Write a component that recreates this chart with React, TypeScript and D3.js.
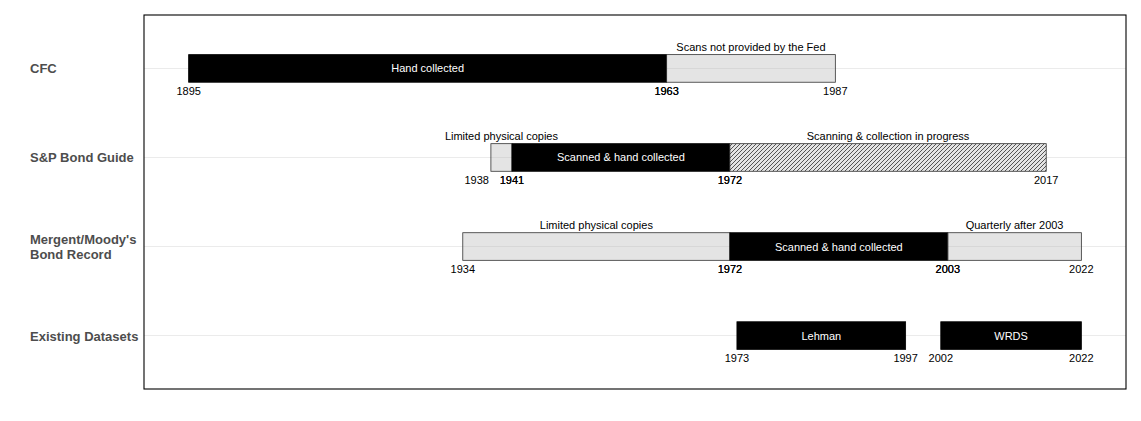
import React from 'react'
import * as d3 from 'd3'

// rows, top to bottom
const sources = ['CFC', 'S&P Bond Guide', "Mergent/Moody's\nBond Record", 'Existing Datasets']

// one entry per coloured segment of a timeline
interface ISegment {
    source: string
    start: number
    end: number
    kind: 'black' | 'grey' | 'hatch'
    inside: string
    above: string
}

const segments: ISegment[] = [
    { source: 'CFC', start: 1895, end: 1963, kind: 'black', inside: 'Hand collected', above: '' },
    { source: 'CFC', start: 1963, end: 1987, kind: 'grey', inside: '', above: 'Scans not provided by the Fed' },
    { source: 'S&P Bond Guide', start: 1938, end: 1941, kind: 'grey', inside: '', above: 'Limited physical copies' },
    { source: 'S&P Bond Guide', start: 1941, end: 1972, kind: 'black', inside: 'Scanned & hand collected', above: '' },
    { source: 'S&P Bond Guide', start: 1972, end: 2017, kind: 'hatch', inside: '', above: 'Scanning & collection in progress' },
    { source: "Mergent/Moody's\nBond Record", start: 1934, end: 1972, kind: 'grey', inside: '', above: 'Limited physical copies' },
    { source: "Mergent/Moody's\nBond Record", start: 1972, end: 2003, kind: 'black', inside: 'Scanned & hand collected', above: '' },
    { source: "Mergent/Moody's\nBond Record", start: 2003, end: 2022, kind: 'grey', inside: '', above: 'Quarterly after 2003' },
    { source: 'Existing Datasets', start: 1973, end: 1997, kind: 'black', inside: 'Lehman', above: '' },
    { source: 'Existing Datasets', start: 2002, end: 2022, kind: 'black', inside: 'WRDS', above: '' },
]

const width = 1141
const height = 421
const panel = { left: 144, right: 1126, top: 15, bottom: 389 }
const font = '"Liberation Sans", Arial, Helvetica, sans-serif'

export default function App() {
    const minYear = d3.min(segments, d => d.start) as number
    const maxYear = d3.max(segments, d => d.end) as number
    const pad = (maxYear - minYear) * 0.05

    const x = d3.scaleLinear()
        .domain([minYear - pad, maxYear + pad])
        .range([panel.left, panel.right])

    const y = d3.scalePoint<string>()
        .domain(sources)
        .range([panel.top, panel.bottom])
        .padding(0.6)

    const barH = y.step() * 0.31

    return (
        <svg
            width={width}
            height={height}
            style={{ position: 'absolute', left: 0, top: 0, fontFamily: font }}
        >
            <defs>
                <pattern id="hatch" patternUnits="userSpaceOnUse" width={4} height={4}>
                    <rect width={4} height={4} fill="#e4e4e4" />
                    <path d="M-1,1 l2,-2 M0,4 l4,-4 M3,5 l2,-2" stroke="#444" strokeWidth={0.9} />
                </pattern>
            </defs>
            <rect x={0} y={0} width={width} height={height} fill="white" />

            {/* grid */}
            {sources.map(s => (
                <line
                    key={'g' + s}
                    x1={panel.left}
                    x2={panel.right}
                    y1={y(s)}
                    y2={y(s)}
                    stroke="#ebebeb"
                    strokeWidth={1.1}
                />
            ))}

            {/* bars */}
            {segments.map((d, i) => {
                const cy = y(d.source) as number
                const fill = d.kind === 'black' ? 'black' : d.kind === 'hatch' ? 'url(#hatch)' : 'rgba(179,179,179,0.35)'
                return (
                    <rect
                        key={'b' + i}
                        x={x(d.start)}
                        y={cy - barH / 2}
                        width={x(d.end) - x(d.start)}
                        height={barH}
                        fill={fill}
                        stroke={d.kind === 'black' ? 'black' : '#333'}
                        strokeWidth={0.8}
                    />
                )
            })}

            {/* texts */}
            {segments.map((d, i) => {
                const cy = y(d.source) as number
                const mid = (x(d.start) + x(d.end)) / 2
                // short segment: push the start year to the left so it clears the end year
                const short = x(d.end) - x(d.start) < 26
                return (
                    <g key={'t' + i} fontSize={11}>
                        {d.inside && (
                            <text x={mid} y={cy + 4} textAnchor="middle" fill="white">{d.inside}</text>
                        )}
                        {d.above && (
                            <text x={mid} y={cy - barH / 2 - 4} textAnchor="middle" fill="black">{d.above}</text>
                        )}
                        <text
                            x={short ? x(d.start) - 2 : x(d.start)}
                            y={cy + barH / 2 + 13}
                            textAnchor={short ? 'end' : 'middle'}
                            fill="black"
                        >
                            {d.start}
                        </text>
                        <text x={x(d.end)} y={cy + barH / 2 + 13} textAnchor="middle" fill="black">{d.end}</text>
                    </g>
                )
            })}

            {/* row labels */}
            {sources.map(s => {
                const lines = s.split('\n')
                const cy = y(s) as number
                return (
                    <text
                        key={'l' + s}
                        x={30}
                        y={cy + 5 - (lines.length - 1) * 7.5}
                        fontSize={13}
                        fontWeight="bold"
                        fill="#4d4d4d"
                    >
                        {lines.map((l, j) => (
                            <tspan key={j} x={30} dy={j === 0 ? 0 : 15}>{l}</tspan>
                        ))}
                    </text>
                )
            })}

            {/* panel border */}
            <rect
                x={panel.left}
                y={panel.top}
                width={panel.right - panel.left}
                height={panel.bottom - panel.top}
                fill="none"
                stroke="black"
                strokeWidth={1.1}
            />
        </svg>
    )
}
